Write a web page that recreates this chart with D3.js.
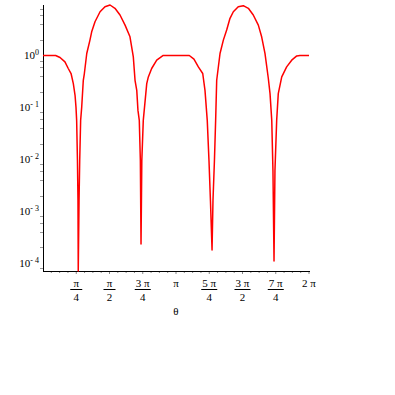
<!DOCTYPE html>
<html>
<head>
<meta charset="utf-8">
<script src="https://cdn.jsdelivr.net/npm/d3@7"></script>
<style>
  html, body { margin: 0; padding: 0; background: #fff; }
  svg text { font-family: "Liberation Serif", "DejaVu Serif", serif; fill: #000; }
</style>
</head>
<body>
<div class="js-chart"></div>
<script>
(function() {
  'use strict';

  /* ------------------------------------------------------------ *\
      Data (theta in units of pi)
  \* ------------------------------------------------------------ */

  var thetaPi = [
    0, 0.053, 0.095, 0.128, 0.165, 0.190, 0.211, 0.228, 0.241, 0.248,
    0.253, 0.259, 0.263, 0.265, 0.271, 0.276, 0.283, 0.291, 0.303, 0.311,
    0.329, 0.353, 0.366, 0.391, 0.429, 0.466, 0.504, 0.541, 0.579, 0.617,
    0.654, 0.679, 0.692, 0.705, 0.714, 0.724, 0.732, 0.737, 0.743, 0.754,
    0.780, 0.792, 0.817, 0.855, 0.904, 1.100, 1.135, 1.168, 1.201, 1.218,
    1.235, 1.248, 1.259, 1.271, 1.278, 1.289, 1.298, 1.306, 1.331, 1.356,
    1.381, 1.406, 1.431, 1.468, 1.506, 1.544, 1.581, 1.619, 1.644, 1.669,
    1.694, 1.707, 1.720, 1.729, 1.737, 1.744, 1.757, 1.769, 1.795, 1.832,
    1.870, 1.908, 1.932, 2
  ];

  var gain = [
    1, 1, 1, 0.915, 0.752, 0.561, 0.449, 0.287, 0.171, 0.101,
    0.0561, 0.00944, 0.00159, 0.0000703, 0.00159, 0.00944, 0.0561, 0.101, 0.333, 0.449,
    1.093, 1.977, 2.86, 4.47, 6.97, 8.71, 9.39, 8.11, 6.02, 3.85,
    2.29, 0.94, 0.333, 0.213, 0.0875, 0.0561, 0.00944, 0.000234, 0.00944, 0.0561,
    0.287, 0.386, 0.561, 0.811, 1, 1, 0.848, 0.602, 0.449, 0.213,
    0.0561, 0.00944, 0.00159, 0.000179, 0.00159, 0.00944, 0.0561, 0.333, 1.093, 1.977,
    3.09, 5.20, 6.97, 8.71, 9.10, 8.11, 6.02, 3.85, 2.29, 1.093,
    0.364, 0.184, 0.0561, 0.00604, 0.000110, 0.00604, 0.0561, 0.184, 0.386, 0.602,
    0.811, 0.98, 1, 1
  ];

  var xTickValues = [0.25, 0.5, 0.75, 1, 1.25, 1.5, 1.75, 2];
  var xTickNums = ['\u03c0', '\u03c0', '3 \u03c0', '\u03c0', '5 \u03c0', '3 \u03c0', '7 \u03c0', '2 \u03c0'];
  var xTickDens = ['4', '2', '4', '', '4', '2', '4', ''];

  var yTickExps = [0, -1, -2, -3, -4];
  var yTickSups = ['0', '- 1', '- 2', '- 3', '- 4'];

  var xTitle = '\u03b8';

  /* ------------------------------------------------------------ *\
      Layout
  \* ------------------------------------------------------------ */

  var width = 395;
  var height = 395;
  var plotLeft = 43;
  var plotRight = 309;
  var plotTop = 5;
  var plotBottom = 271;

  var points = thetaPi.map(function(t, i) {
    return { t: t, v: gain[i] };
  });

  var x = d3.scaleLinear()
    .domain([0, 2])
    .range([plotLeft, plotRight]);

  var y = d3.scaleLog()
    .domain([d3.min(gain), d3.max(gain)])
    .range([plotBottom, plotTop]);

  var svg = d3.select('.js-chart')
    .append('svg')
    .attr('width', width)
    .attr('height', height)
    .attr('viewBox', '0 0 ' + width + ' ' + height);

  /* ------------------------------------------------------------ *\
      Minor ticks
  \* ------------------------------------------------------------ */

  var xMinor = d3.range(1, 33).map(function(i) { return i / 16; });

  svg.append('g')
    .selectAll('line')
    .data(xMinor)
    .join('line')
    .attr('x1', function(d) { return x(d); })
    .attr('x2', function(d) { return x(d); })
    .attr('y1', plotBottom)
    .attr('y2', function(d) { return plotBottom + (xTickValues.indexOf(d) >= 0 ? 3 : 2); })
    .attr('stroke', '#888')
    .attr('stroke-width', 1);

  var yMinor = [];
  yTickExps.concat([1]).forEach(function(e) {
    [2, 4, 6, 8].forEach(function(m) {
      var v = m * Math.pow(10, e - 1);
      if (v >= y.domain()[0] && v <= y.domain()[1]) yMinor.push(v);
    });
  });

  svg.append('g')
    .selectAll('line')
    .data(yMinor)
    .join('line')
    .attr('x1', plotLeft - 3)
    .attr('x2', plotLeft)
    .attr('y1', function(d) { return Math.round(y(d)) + 0.5; })
    .attr('y2', function(d) { return Math.round(y(d)) + 0.5; })
    .attr('stroke', '#999')
    .attr('stroke-width', 1);

  /* ------------------------------------------------------------ *\
      Axis lines
  \* ------------------------------------------------------------ */

  svg.append('line')
    .attr('x1', plotLeft + 0.5)
    .attr('x2', plotLeft + 0.5)
    .attr('y1', plotTop + 10)
    .attr('y2', plotBottom)
    .attr('stroke', '#000')
    .attr('stroke-width', 1)
    .attr('y1', plotTop);

  svg.append('line')
    .attr('x1', plotLeft)
    .attr('x2', plotRight + 1)
    .attr('y1', plotBottom + 0.5)
    .attr('y2', plotBottom + 0.5)
    .attr('stroke', '#000')
    .attr('stroke-width', 1);

  /* ------------------------------------------------------------ *\
      Y tick labels (10 with superscript exponent)
  \* ------------------------------------------------------------ */

  var yLabels = svg.append('g')
    .selectAll('text')
    .data(yTickExps)
    .join('text')
    .attr('x', plotLeft - 4)
    .attr('y', function(d) { return y(Math.pow(10, d)) + 4; })
    .attr('text-anchor', 'end')
    .attr('font-size', 11);

  yLabels.append('tspan').text('10');
  yLabels.append('tspan')
    .attr('dy', -4)
    .attr('font-size', 8)
    .text(function(d, i) { return yTickSups[i]; });

  /* ------------------------------------------------------------ *\
      X tick labels (fractions of pi)
  \* ------------------------------------------------------------ */

  var xLabels = svg.append('g')
    .selectAll('g')
    .data(xTickValues)
    .join('g')
    .attr('transform', function(d) { return 'translate(' + x(d) + ',0)'; });

  xLabels.append('text')
    .attr('y', 287)
    .attr('text-anchor', 'middle')
    .attr('font-size', 11)
    .text(function(d, i) { return xTickNums[i]; });

  xLabels.filter(function(d, i) { return xTickDens[i] !== ''; })
    .append('line')
    .attr('x1', function(d) { return xTickNums[xTickValues.indexOf(d)].length > 1 ? -8 : -6; })
    .attr('x2', function(d) { return xTickNums[xTickValues.indexOf(d)].length > 1 ? 8 : 6; })
    .attr('y1', 289.5)
    .attr('y2', 289.5)
    .attr('stroke', '#000')
    .attr('stroke-width', 1);

  xLabels.filter(function(d, i) { return xTickDens[i] !== ''; })
    .append('text')
    .attr('y', 301)
    .attr('text-anchor', 'middle')
    .attr('font-size', 11)
    .text(function(d) { return xTickDens[xTickValues.indexOf(d)]; });

  svg.append('text')
    .attr('x', (plotLeft + plotRight) / 2)
    .attr('y', 315)
    .attr('text-anchor', 'middle')
    .attr('font-size', 11)
    .text(xTitle);

  /* ------------------------------------------------------------ *\
      The curve
  \* ------------------------------------------------------------ */

  var line = d3.line()
    .x(function(d) { return x(d.t); })
    .y(function(d) { return y(d.v); });

  svg.append('path')
    .datum(points)
    .attr('d', line)
    .attr('fill', 'none')
    .attr('stroke', '#ff0000')
    .attr('stroke-width', 1.5)
    .attr('stroke-linejoin', 'round');
})();
</script>
</body>
</html>
